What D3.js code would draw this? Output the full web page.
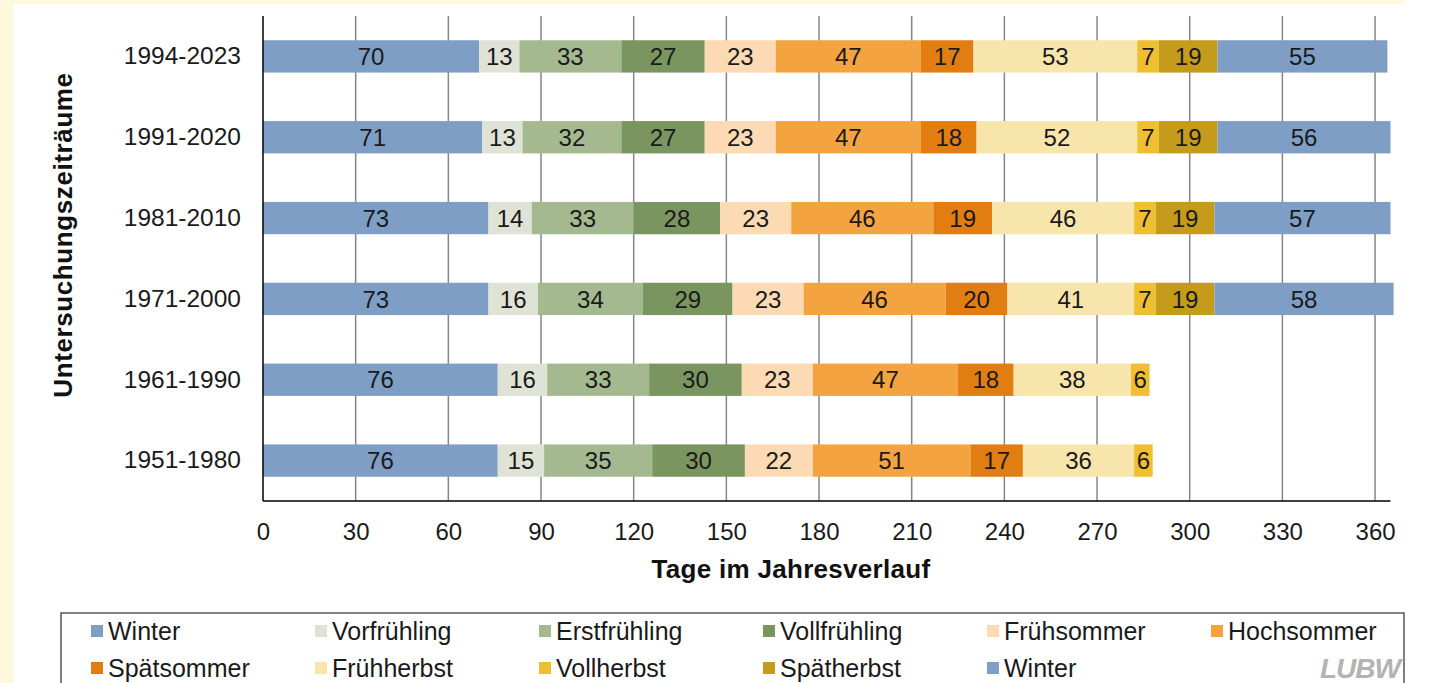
<!DOCTYPE html>
<html>
<head>
<meta charset="utf-8">
<script src="https://cdn.jsdelivr.net/npm/d3@7"></script>
<style>
  body { margin: 0; background: #fef9dc; }
  svg { display: block; font-family: "Liberation Sans", Arial, sans-serif; }
</style>
</head>
<body>
<svg id="chart" width="1433" height="683"></svg>
<script>
// periods, top to bottom
const periods = ['1994-2023', '1991-2020', '1981-2010', '1971-2000', '1961-1990', '1951-1980'];

// days per phenological season, same order as periods
const winterStart = [70, 71, 73, 73, 76, 76];
const vorfruehling = [13, 13, 14, 16, 16, 15];
const erstfruehling = [33, 32, 33, 34, 33, 35];
const vollfruehling = [27, 27, 28, 29, 30, 30];
const fruehsommer = [23, 23, 23, 23, 23, 22];
const hochsommer = [47, 47, 46, 46, 47, 51];
const spaetsommer = [17, 18, 19, 20, 18, 17];
const fruehherbst = [53, 52, 46, 41, 38, 36];
const vollherbst = [7, 7, 7, 7, 6, 6];
const spaetherbst = [19, 19, 19, 19, null, null];
const winterEnd = [55, 56, 57, 58, null, null];

const xTicks = [0, 30, 60, 90, 120, 150, 180, 210, 240, 270, 300, 330, 360];

const seasons = [
  { key: 'w1', name: 'Winter', values: winterStart, color: '#7f9ec6' },
  { key: 'vf', name: 'Vorfrühling', values: vorfruehling, color: '#dee3d6' },
  { key: 'ef', name: 'Erstfrühling', values: erstfruehling, color: '#a5b991' },
  { key: 'vo', name: 'Vollfrühling', values: vollfruehling, color: '#7a955f' },
  { key: 'fs', name: 'Frühsommer', values: fruehsommer, color: '#fcdab4' },
  { key: 'hs', name: 'Hochsommer', values: hochsommer, color: '#f4a341' },
  { key: 'ss', name: 'Spätsommer', values: spaetsommer, color: '#e27d12' },
  { key: 'fh', name: 'Frühherbst', values: fruehherbst, color: '#f8e5ab' },
  { key: 'vh', name: 'Vollherbst', values: vollherbst, color: '#efbf31' },
  { key: 'sh', name: 'Spätherbst', values: spaetherbst, color: '#c59b1c' },
  { key: 'w2', name: 'Winter', values: winterEnd, color: '#7f9ec6' },
];

const svg = d3.select('#chart');

// yellow frame and white panel
svg.append('rect').attr('width', 1433).attr('height', 683).attr('fill', '#fef9dc');
svg.append('rect').attr('x', 13).attr('y', 4).attr('width', 1420).attr('height', 679).attr('fill', '#ffffff');
svg.append('rect').attr('x', 1405).attr('y', 0).attr('width', 28).attr('height', 4).attr('fill', '#ffffff');

const plotTop = 16;
const plotBottom = 501;

const x = d3.scaleLinear().domain([0, 365]).range([263, 1390.5]);
const y = d3.scaleBand().domain(periods).range([plotTop, plotBottom])
  .paddingInner(0.6).paddingOuter(0.3);

// gridlines
svg.append('g')
  .selectAll('line')
  .data(xTicks.filter((t) => t > 0))
  .join('line')
  .attr('x1', (d) => x(d))
  .attr('x2', (d) => x(d))
  .attr('y1', plotTop)
  .attr('y2', plotBottom)
  .attr('stroke', '#868686')
  .attr('stroke-width', 1.5);

// stacked rows
const rows = periods.map((p, i) => {
  const row = { period: p };
  seasons.forEach((s) => { row[s.key] = s.values[i] ?? 0; });
  return row;
});
const stacked = d3.stack().keys(seasons.map((s) => s.key))(rows);

const layers = svg.append('g')
  .selectAll('g')
  .data(stacked)
  .join('g')
  .attr('fill', (d, i) => seasons[i].color);

layers.selectAll('rect')
  .data((d) => d.filter((seg) => seg[1] > seg[0]))
  .join('rect')
  .attr('x', (d) => x(d[0]))
  .attr('y', (d) => y(d.data.period))
  .attr('width', (d) => x(d[1]) - x(d[0]))
  .attr('height', y.bandwidth());

layers.selectAll('text')
  .data((d) => d.filter((seg) => seg[1] > seg[0]))
  .join('text')
  .attr('x', (d) => (x(d[0]) + x(d[1])) / 2)
  .attr('y', (d) => y(d.data.period) + y.bandwidth() / 2)
  .attr('dy', '0.36em')
  .attr('text-anchor', 'middle')
  .attr('fill', '#1a1a1a')
  .style('font-size', '24px')
  .text((d) => d[1] - d[0]);

// axes lines
svg.append('line')
  .attr('x1', x(0)).attr('x2', x(0))
  .attr('y1', plotTop).attr('y2', plotBottom)
  .attr('stroke', '#000').attr('stroke-width', 1.5);
svg.append('line')
  .attr('x1', x(0)).attr('x2', x(365))
  .attr('y1', plotBottom).attr('y2', plotBottom)
  .attr('stroke', '#000').attr('stroke-width', 1.5);

// x tick labels
const xAxis = d3.axisBottom(x).tickValues(xTicks).tickSize(0).tickPadding(22);
const xg = svg.append('g')
  .attr('transform', `translate(0,${plotBottom})`)
  .call(xAxis);
xg.select('.domain').remove();
xg.selectAll('text')
  .attr('fill', '#1a1a1a')
  .style('font-size', '24px')
  .style('font-family', '"Liberation Sans", Arial, sans-serif');

// y tick labels
const yAxis = d3.axisLeft(y).tickSize(0).tickPadding(22);
const yg = svg.append('g')
  .attr('transform', `translate(${x(0)},0)`)
  .call(yAxis);
yg.select('.domain').remove();
yg.selectAll('text')
  .attr('fill', '#1a1a1a')
  .style('font-size', '24.5px')
  .style('font-family', '"Liberation Sans", Arial, sans-serif');

// axis titles
svg.append('text')
  .attr('x', 791)
  .attr('y', 578)
  .attr('text-anchor', 'middle')
  .attr('fill', '#111')
  .style('font-size', '26px')
  .style('font-weight', 'bold')
  .style('letter-spacing', '0.3px')
  .text('Tage im Jahresverlauf');

svg.append('text')
  .attr('transform', 'translate(72,235) rotate(-90)')
  .attr('text-anchor', 'middle')
  .attr('fill', '#111')
  .style('font-size', '26px')
  .style('font-weight', 'bold')
  .style('letter-spacing', '0.6px')
  .text('Untersuchungszeiträume');

// legend
svg.append('rect')
  .attr('x', 61).attr('y', 613)
  .attr('width', 1343).attr('height', 90)
  .attr('fill', '#fff')
  .attr('stroke', '#555')
  .attr('stroke-width', 1.5);

const legendItems = svg.append('g')
  .selectAll('g')
  .data(seasons)
  .join('g')
  .attr('transform', (d, i) => `translate(${91 + (i % 6) * 224},${i < 6 ? 640 : 677})`);

legendItems.append('rect')
  .attr('x', 0).attr('y', -15)
  .attr('width', 12).attr('height', 12)
  .attr('fill', (d) => d.color);

legendItems.append('text')
  .attr('x', 17)
  .attr('y', 0)
  .attr('fill', '#1a1a1a')
  .style('font-size', '25px')
  .text((d) => d.name);

// logo
svg.append('text')
  .attr('x', 1400)
  .attr('y', 678)
  .attr('text-anchor', 'end')
  .attr('fill', '#b3b3b3')
  .style('font-size', '28px')
  .style('font-weight', 'bold')
  .style('font-style', 'italic')
  .style('letter-spacing', '-1px')
  .text('LUBW');
</script>
</body>
</html>
